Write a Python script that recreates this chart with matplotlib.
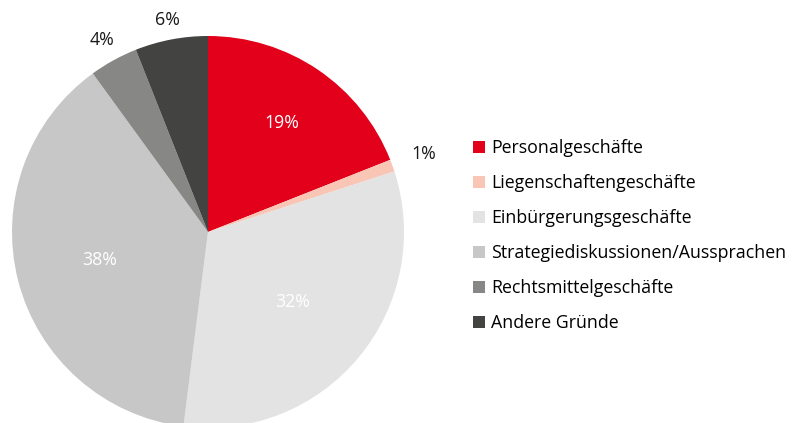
import numpy as np
import matplotlib.pyplot as plt

plt.rcParams['font.family'] = ['Open Sans', 'DejaVu Sans']

categories = ['Personalgeschäfte', 'Liegenschaftengeschäfte', 'Einbürgerungsgeschäfte',
              'Strategiediskussionen/Aussprachen', 'Rechtsmittelgeschäfte', 'Andere Gründe']
shares = [19, 1, 32, 38, 4, 6]
labels = ['19%', '1%', '32%', '38%', '4%', '6%']

colours = ['#E2001A', '#F9C5B5', '#E3E3E3', '#C6C7C6', '#878786', '#434342']
label_dist = [0.67, 1.17, 0.56, 0.57, 1.12, 1.10]
label_col = ['white', '#1a1a1a', 'white', 'white', '#1a1a1a', '#1a1a1a']

fig = plt.figure(figsize=(8, 4.23), dpi=100)
ax = fig.add_axes([12 / 800, -5 / 423, 392 / 800, 392 / 423])

wedges, _ = ax.pie(shares, colors=colours, startangle=90, counterclock=False,
                   wedgeprops=dict(linewidth=0))
ax.set_xlim(-1, 1)
ax.set_ylim(-1, 1)
ax.set_aspect('equal')

for w, lab, d, c in zip(wedges, labels, label_dist, label_col):
    ang = np.deg2rad((w.theta1 + w.theta2) / 2)
    ax.text(d * np.cos(ang), d * np.sin(ang), lab, ha='center', va='center',
            fontsize=12.8, color=c, clip_on=False)

fig.legend(wedges, categories, loc='upper left', bbox_to_anchor=(473 / 800, 1 - 139 / 423),
           frameon=False, fontsize=12.8, handlelength=0.7, handleheight=0.7,
           handletextpad=0.3, labelspacing=0.96, borderaxespad=0, borderpad=0)

fig.savefig('out.png', dpi=100)
